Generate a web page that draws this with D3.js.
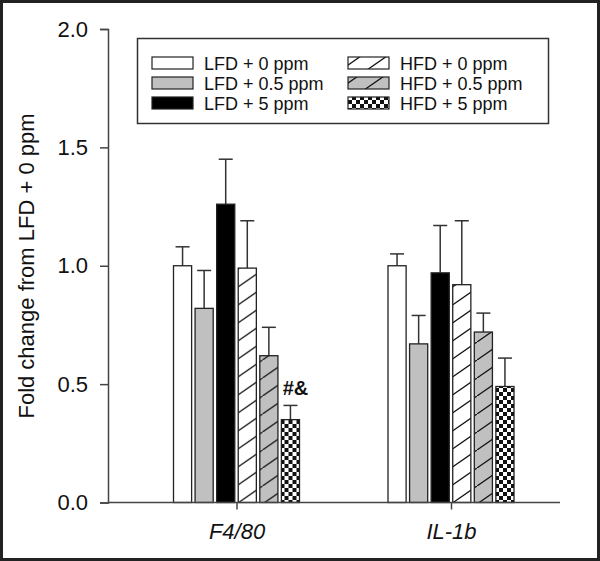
<!DOCTYPE html>
<html><head><meta charset="utf-8">
<script src="https://cdn.jsdelivr.net/npm/d3@7"></script>
<style>body{margin:0;background:#fff}svg{display:block;font-family:Arial,"Liberation Sans",sans-serif}</style>
</head><body>
<svg id="c" width="600" height="561"></svg>
<script>
const categories = ["F4/80", "IL-1b"];
const seriesNames = ["LFD + 0 ppm", "LFD + 0.5 ppm", "LFD + 5 ppm", "HFD + 0 ppm", "HFD + 0.5 ppm", "HFD + 5 ppm"];
const means = {
  "F4/80": [1.00, 0.82, 1.26, 0.99, 0.62, 0.35],
  "IL-1b": [1.00, 0.67, 0.97, 0.92, 0.72, 0.49]
};
const errTops = {
  "F4/80": [1.08, 0.98, 1.45, 1.19, 0.74, 0.41],
  "IL-1b": [1.05, 0.79, 1.17, 1.19, 0.80, 0.61]
};
const annotations = [{category: "F4/80", series: 5, text: "#&"}];
const yTicks = [0.0, 0.5, 1.0, 1.5, 2.0];
const yLabel = "Fold change from LFD + 0 ppm";

const svg = d3.select("#c");
const defs = svg.append("defs");

function hatch(id, bg) {
  const p = defs.append("pattern").attr("id", id).attr("patternUnits", "userSpaceOnUse")
    .attr("width", 26).attr("height", 18);
  p.append("rect").attr("width", 26).attr("height", 18).attr("fill", bg);
  p.append("line").attr("x1", 0).attr("y1", 18).attr("x2", 26).attr("y2", 0)
    .attr("stroke", "#111").attr("stroke-width", 1.3);
}
hatch("hatchW", "#fff");
hatch("hatchG", "#c0c0c0");
const ck = defs.append("pattern").attr("id", "check").attr("patternUnits", "userSpaceOnUse")
  .attr("width", 8).attr("height", 8);
ck.append("rect").attr("width", 8).attr("height", 8).attr("fill", "#fff");
ck.append("rect").attr("width", 4).attr("height", 4).attr("fill", "#111");
ck.append("rect").attr("x", 4).attr("y", 4).attr("width", 4).attr("height", 4).attr("fill", "#111");

const fills = ["#fff", "#c0c0c0", "#000", "url(#hatchW)", "url(#hatchG)", "url(#check)"];

// frame
svg.append("rect").attr("x", 1.5).attr("y", 1.5).attr("width", 597).attr("height", 558)
  .attr("fill", "none").attr("stroke", "#222").attr("stroke-width", 3);

const y = d3.scaleLinear().domain([0, 2]).range([502.5, 29]);
const x0 = d3.scalePoint().domain(categories).range([236.5, 451]);
const x1 = d3.scaleBand().domain(d3.range(seriesNames.length)).range([-63, 63]).paddingInner(0.16);

// y axis
const ya = svg.append("g").attr("transform", "translate(108,0)")
  .call(d3.axisLeft(y).tickValues(yTicks).tickFormat(d3.format(".1f")).tickSize(8).tickPadding(12));
ya.select(".domain").attr("stroke", "#444").attr("stroke-width", 1.5);
ya.selectAll(".tick line").attr("stroke", "#444").attr("stroke-width", 1.5);
ya.selectAll("text").attr("font-size", 22).attr("fill", "#111").attr("font-family", "Arial, 'Liberation Sans', sans-serif");

// x axis
const xa = svg.append("g").attr("transform", "translate(0,502.5)")
  .call(d3.axisBottom(x0).tickSize(7).tickPadding(14).tickSizeOuter(0));
xa.select(".domain").attr("d", "M108,0H560").attr("stroke", "#444").attr("stroke-width", 1.5);
xa.selectAll(".tick line").attr("stroke", "#444").attr("stroke-width", 1.5);
xa.selectAll("text").attr("font-size", 22).attr("font-style", "italic").attr("fill", "#111")
  .attr("font-family", "Arial, 'Liberation Sans', sans-serif");

// y label
svg.append("text").attr("transform", "translate(34,266) rotate(-90)").attr("text-anchor", "middle")
  .attr("font-size", 22).attr("fill", "#111").text(yLabel);

// bars
const groups = svg.append("g").selectAll("g").data(categories).join("g")
  .attr("transform", d => `translate(${x0(d)},0)`);
groups.each(function(cat) {
  const g = d3.select(this);
  const data = means[cat].map((v, i) => ({i, v, e: errTops[cat][i]}));
  g.selectAll("line.err").data(data).join("line").attr("class", "err")
    .attr("x1", d => x1(d.i) + x1.bandwidth() / 2).attr("x2", d => x1(d.i) + x1.bandwidth() / 2)
    .attr("y1", d => y(d.v)).attr("y2", d => y(d.e)).attr("stroke", "#333").attr("stroke-width", 1.5);
  g.selectAll("line.cap").data(data).join("line").attr("class", "cap")
    .attr("x1", d => x1(d.i) + x1.bandwidth() / 2 - 7).attr("x2", d => x1(d.i) + x1.bandwidth() / 2 + 7)
    .attr("y1", d => y(d.e)).attr("y2", d => y(d.e)).attr("stroke", "#333").attr("stroke-width", 1.5);
  g.selectAll("rect").data(data).join("rect")
    .attr("x", d => x1(d.i)).attr("width", x1.bandwidth())
    .attr("y", d => y(d.v)).attr("height", d => y(0) - y(d.v))
    .attr("fill", d => fills[d.i]).attr("stroke", "#222").attr("stroke-width", 1.3);
});
xa.raise();

// annotation
annotations.forEach(a => {
  svg.append("text").attr("x", x0(a.category) + x1(a.series) + x1.bandwidth() / 2 + 5)
    .attr("y", y(errTops[a.category][a.series]) - 10).attr("text-anchor", "middle")
    .attr("font-size", 20).attr("font-weight", "bold").attr("fill", "#111").text(a.text);
});

// legend
const lg = svg.append("g");
lg.append("rect").attr("x", 137.5).attr("y", 38.5).attr("width", 411).attr("height", 85)
  .attr("fill", "#fff").attr("stroke", "#333").attr("stroke-width", 1.5);
seriesNames.forEach((name, i) => {
  const col = Math.floor(i / 3), row = i % 3;
  const sx = col === 0 ? 152 : 348, sy = 57 + row * 20;
  lg.append("rect").attr("x", sx).attr("y", sy).attr("width", 41).attr("height", 12)
    .attr("fill", fills[i]).attr("stroke", "#222").attr("stroke-width", 1.2);
  lg.append("text").attr("x", sx + 52).attr("y", sy + 12.5).attr("font-size", 18).attr("fill", "#111").text(name);
});
</script>
</body></html>
